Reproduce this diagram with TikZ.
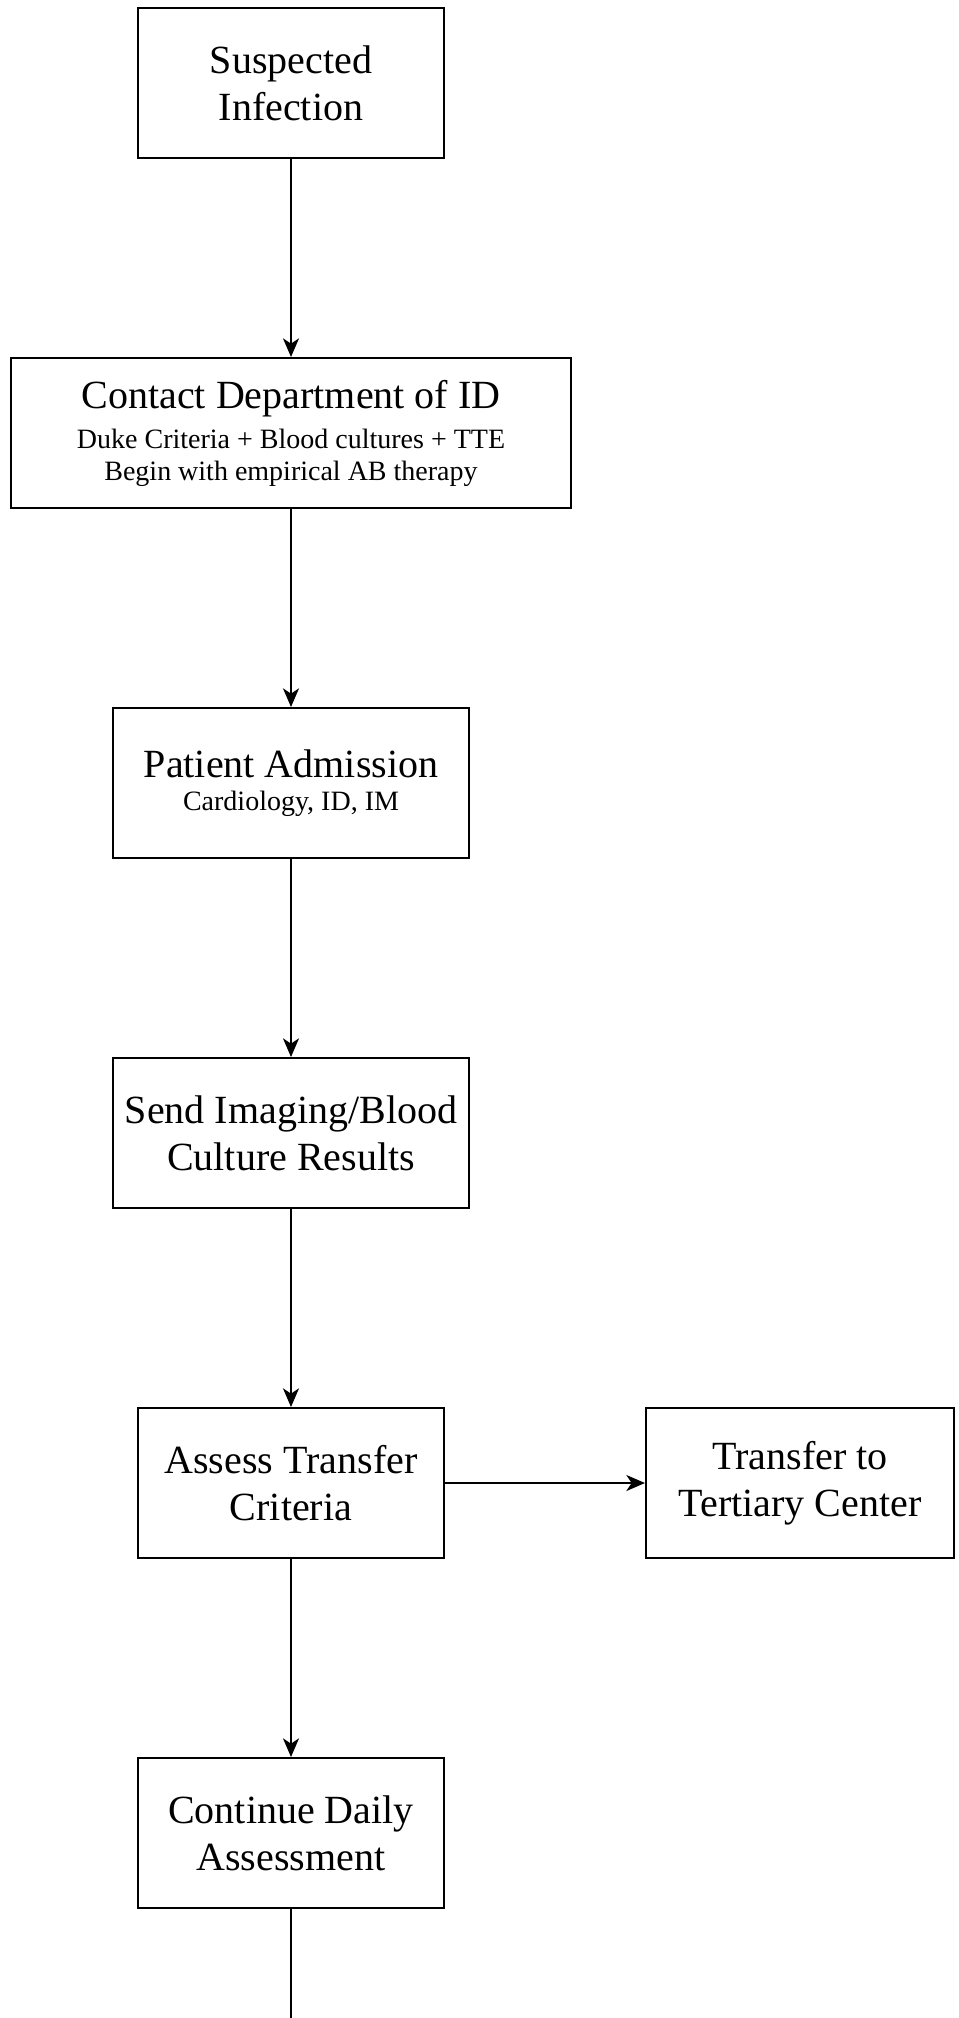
\documentclass[tikz,border=0pt]{standalone}
\usepackage{fontspec}
\setmainfont{Liberation Serif}
\usepackage{tikz}
\usetikzlibrary{shapes, arrows.meta}
\tikzstyle{line} = [draw, line width=1.5pt, -{Stealth[length=14pt, width=12pt, inset=4pt]}]
\tikzstyle{block}=[draw, rectangle, line width=1.5pt, align=center, minimum height=112.5pt, inner sep=0pt, font=\fontsize{30}{35}\selectfont]
\def\smalltxt{\fontsize{21}{24}\selectfont}

\begin{document}
\begin{tikzpicture}[node distance=262.5pt]
	\useasboundingbox (0,0) rectangle (718.5pt,-1513.5pt);
	\node[block, minimum width=229.5pt] (S) at (218.25pt,-62.25pt) {Suspected\\Infection};
	\node[block, below of = S, minimum width=420pt] (C) {Contact Department of ID\\[-5pt] {\smalltxt Duke Criteria + Blood cultures + TTE}\\[-11pt] {\smalltxt Begin with empirical AB therapy}};
	\node[block, below of = C, minimum width=267pt] (PA) {Patient Admission\\[-10pt] {\smalltxt Cardiology, ID, IM}};
	\node[block, below of = PA, minimum width=267pt] (R) {Send Imaging/Blood\\Culture Results};
	\node[block, below of = R, minimum width=229.5pt] (T) {Assess Transfer\\Criteria};
	\node[block, right of = T, xshift=119.25pt, minimum width=231pt] (TC) {Transfer to\\Tertiary Center};
	\node[block, below of = T, minimum width=229.5pt] (D) {Continue Daily\\Assessment};
	\coordinate (E) at (218.25pt,-1513.5pt);
	\draw[line] (S) -- (C);
	\draw[line] (C) -- (PA);
	\draw[line] (PA) -- (R);
	\draw[line] (R) -- (T);
	\draw[line] (T) -- (TC);
	\draw[line] (T) -- (D);
	\draw[line width=1.5pt] (D) -- (E);
\end{tikzpicture}
\end{document}
